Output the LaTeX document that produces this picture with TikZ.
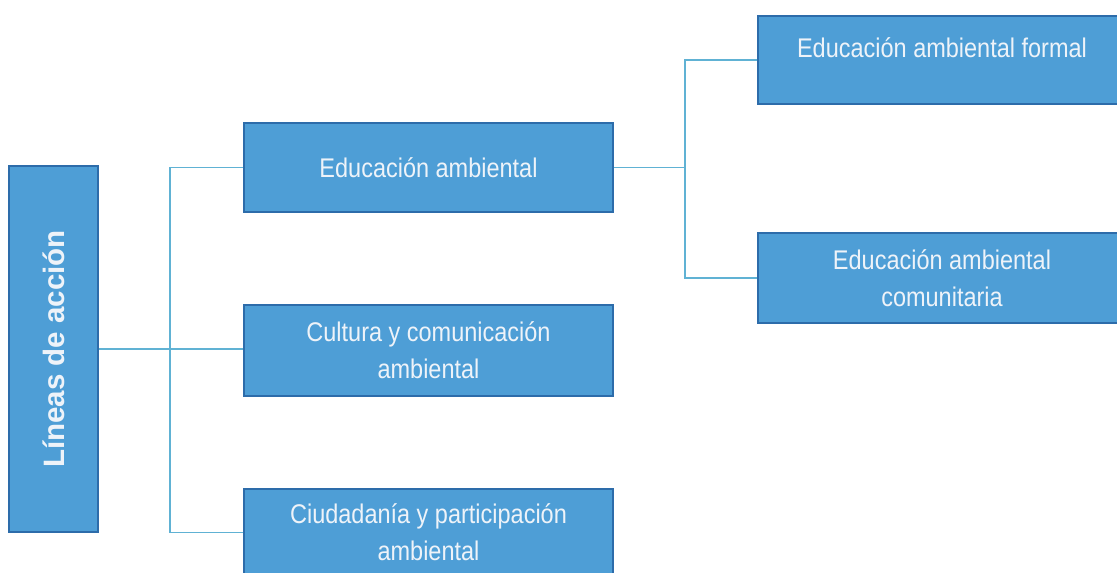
\documentclass[tikz,border=0pt]{standalone}
\usepackage{fontspec}
\setmainfont{Liberation Sans}[FakeStretch=0.87]
\newfontfamily\anchafont{Liberation Sans}
\definecolor{cajaazul}{RGB}{78,158,214}
\definecolor{bordeazul}{RGB}{45,108,170}
\definecolor{lineaazul}{RGB}{96,178,212}
\definecolor{textoblanco}{RGB}{238,243,249}

\begin{document}
\begin{tikzpicture}[x=1pt, y=-1pt,
    caja/.style={draw=bordeazul, line width=2pt, fill=cajaazul, text=textoblanco,
        minimum width=369pt, minimum height=89pt, inner sep=0pt, align=center,
        font=\fontsize{27}{37}\selectfont},
    enlace/.style={draw=lineaazul, line width=1.2pt}]
    \useasboundingbox (0,0) rectangle (1117,573);
    \clip (0,0) rectangle (1117,573);

    \node[caja, rotate=90, minimum width=366pt, minimum height=89pt,
        font=\anchafont\bfseries\fontsize{29.5}{34}\selectfont] (lineas) at (53.5,349) {Líneas de acción};

    \node[caja] (educ) at (428.5,167.5) {Educación ambiental};
    \node[caja, minimum height=91pt] (cultura) at (428.5,350.5) {Cultura y comunicación\\ambiental};
    \node[caja, minimum height=88pt] (ciudad) at (428.5,532.5) {Ciudadanía y participación\\ambiental};

    \node[caja, minimum width=368pt, minimum height=88pt] (formal) at (942,60) {\raisebox{25pt}{Educación ambiental formal}};
    \node[caja, minimum width=368pt, minimum height=90pt] (comun) at (942,278) {Educación ambiental\\comunitaria};

    \coordinate (tronco) at (170,349);
    \coordinate (rama) at (685,167.5);

    \draw[enlace] (lineas) -- (tronco);
    \draw[enlace] (tronco) -- (tronco -| cultura.west);
    \draw[enlace] (educ.west) -| (tronco) |- (ciudad.west);

    \draw[enlace] (educ.east) -- (rama);
    \draw[enlace] (formal.west) -| (rama) |- (comun.west);
\end{tikzpicture}
\end{document}
